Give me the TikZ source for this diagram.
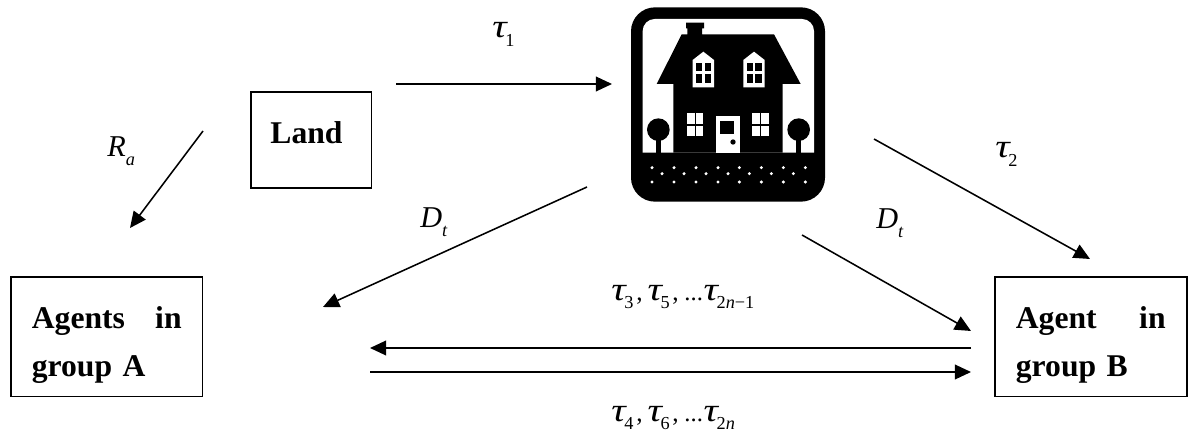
\documentclass[tikz,border=0pt]{standalone}
\usepackage{graphicx}
\usepackage{fontspec}
\setmainfont{Liberation Serif}
\usetikzlibrary{arrows.meta}
\newcommand{\tausub}[1]{{\fontsize{23.5}{23.5}\selectfont\itshape\scalebox{1.22}[1]{τ}}\hspace{-1pt}\raisebox{-5.8pt}{\fontsize{13}{13}\selectfont #1}}
\newcommand{\ltrsub}[2]{{\fontsize{21.5}{21.5}\selectfont\itshape #1}\raisebox{-6.2pt}{\fontsize{13}{13}\selectfont\itshape #2}}
\newcommand{\cmm}{\hspace{2pt}{\fontsize{18}{18}\selectfont ,}\hspace{3.5pt}}
\newcommand{\dts}{\hspace{0.5pt}{\fontsize{17.5}{18}\selectfont ...}\hspace{0.5pt}}
\tikzset{
    boxnode/.style={draw=black, line width=1.1pt, align=left, inner ysep=0pt, anchor=north west, text height=37pt, font=\fontsize{22.5}{34.1}\selectfont\bfseries},
    lab/.style={inner sep=0pt, anchor=base west},
    arr/.style={line width=1.1pt, -{Triangle[length=11.5pt, width=10.5pt]}}
}
\begin{document}
\begin{tikzpicture}[x=0.025cm, y=-0.025cm]
        \useasboundingbox (0,0) rectangle (1188,432);
        % boxes
        \node[boxnode, inner xsep=14pt, text width=58pt, text depth=31.3pt] (land) at (250,91) {Land};
        \node[boxnode, inner xsep=15pt, text width=106.5pt, text depth=48.3pt] (agentsA) at (10,276) {Agents\hfill in\\group A};
        \node[boxnode, inner xsep=15pt, text width=106.5pt, text depth=48.3pt] (agentB) at (994,276) {Agent\hfill in\\group B};
        % house
        \begin{scope}[shift={(620,0)}, x=0.008333cm, y=-0.008333cm]
            \fill[black, rounded corners=0.6cm] (33,22) rectangle (615,605);
            \fill[white] (68,458) [rounded corners=0.3cm] -- (68,57) -- (582,57) [sharp corners] -- (582,458) -- cycle;
            \fill[black] (110,252) -- (185,103) -- (202,103) -- (202,85) -- (198,85) -- (198,68) -- (252,68) -- (252,85) -- (246,85) -- (246,103) -- (462,103) -- (542,252) -- (488,252) -- (488,458) -- (160,458) -- (160,252) -- cycle;
            \foreach \xd in {0,152} {
                \fill[white] (218+\xd,180) -- (250+\xd,155) -- (282+\xd,180) -- (282+\xd,262) -- (218+\xd,262) -- cycle;
                \fill[black] (228+\xd,188) rectangle (247+\xd,214);
                \fill[black] (254+\xd,188) rectangle (274+\xd,214);
                \fill[black] (228+\xd,222) rectangle (247+\xd,248);
                \fill[black] (254+\xd,222) rectangle (274+\xd,248);
            }
            \foreach \xd in {0,196} {
                \fill[white] (201+\xd,339) rectangle (224+\xd,372);
                \fill[white] (228+\xd,339) rectangle (250+\xd,372);
                \fill[white] (201+\xd,377) rectangle (224+\xd,408);
                \fill[white] (228+\xd,377) rectangle (250+\xd,408);
            }
            \fill[white] (288,348) rectangle (360,458);
            \fill[black] (301,363) rectangle (343,402);
            \fill[black] (339,426) circle (8);
            \foreach \xt in {115,536} {
                \fill[black] (\xt,389) circle (34);
                \fill[black] (\xt-7,400) rectangle (\xt+7,458);
            }
            \foreach \xp in {96,162,228,294,358,424,490,556} {
                \fill[white] (\xp,503) circle (5);
                \fill[white] (\xp,546) circle (5);
            }
            \foreach \xp in {126,192,258,324,388,454,520} {
                \fill[white] (\xp,521) circle (5);
            }
        \end{scope}
        % arrow ends
        \coordinate (landOut) at (396,84);
        \coordinate (houseIn) at (612,84);
        \coordinate (landLeft) at (203,131);
        \coordinate (agentsTop) at (130,228);
        \coordinate (houseLeft) at (587,187);
        \coordinate (agentsRight) at (323,307);
        \coordinate (houseLow) at (802,235);
        \coordinate (agentLeft) at (971,331);
        \coordinate (houseRight) at (874,139);
        \coordinate (agentTop) at (1090,259);
        \coordinate (agentBackOut) at (971,348);
        \coordinate (agentsBackIn) at (370,348);
        \coordinate (agentsOut) at (370,372);
        \coordinate (agentIn) at (971,372);
        \draw[arr] (landOut) -- (houseIn);
        \draw[arr] (landLeft) -- (agentsTop);
        \draw[arr] (houseLeft) -- (agentsRight);
        \draw[arr] (houseLow) -- (agentLeft);
        \draw[arr] (houseRight) -- (agentTop);
        \draw[arr] (agentBackOut) -- (agentsBackIn);
        \draw[arr] (agentsOut) -- (agentIn);
        % labels
        \node[lab] (tauA) at (492,38) {\tausub{1}};
        \node[lab] (tauB) at (995,158) {\tausub{2}};
        \node[lab] (rentA) at (107,157) {\ltrsub{R}{a}};
        \node[lab] (debtA) at (420,228) {\ltrsub{D}{t}};
        \node[lab] (debtB) at (876,229) {\ltrsub{D}{t}};
        \node[lab] (tauOdd) at (611,300) {\tausub{3}\cmm\tausub{5}\cmm\dts\tausub{2\textit{n}−1}};
        \node[lab] (tauEven) at (611,421) {\tausub{4}\cmm\tausub{6}\cmm\dts\tausub{2\textit{n}}};
\end{tikzpicture}
\end{document}
